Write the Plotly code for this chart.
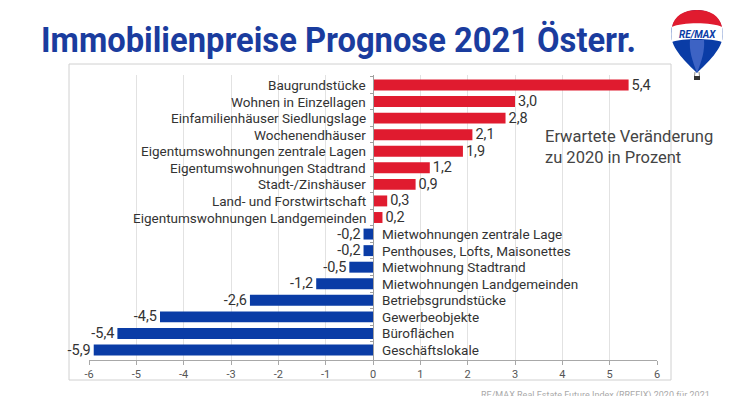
import plotly.graph_objects as go

# ---------------- data ----------------
categories = [
    "Baugrundstücke",
    "Wohnen in Einzellagen",
    "Einfamilienhäuser Siedlungslage",
    "Wochenendhäuser",
    "Eigentumswohnungen zentrale Lagen",
    "Eigentumswohnungen Stadtrand",
    "Stadt-/Zinshäuser",
    "Land- und Forstwirtschaft",
    "Eigentumswohnungen Landgemeinden",
    "Mietwohnungen zentrale Lage",
    "Penthouses, Lofts, Maisonettes",
    "Mietwohnung Stadtrand",
    "Mietwohnungen Landgemeinden",
    "Betriebsgrundstücke",
    "Gewerbeobjekte",
    "Büroflächen",
    "Geschäftslokale",
]
values = [5.4, 3.0, 2.8, 2.1, 1.9, 1.2, 0.9, 0.3, 0.2,
          -0.2, -0.2, -0.5, -1.2, -2.6, -4.5, -5.4, -5.9]
tick_values = [-6, -5, -4, -3, -2, -1, 0, 1, 2, 3, 4, 5, 6]
tick_labels = ["-6", "-5", "-4", "-3", "-2", "-1", "0", "1", "2", "3", "4", "5", "6"]

title_text = "Immobilienpreise Prognose 2021 Österr."
note_text = "Erwartete Veränderung<br>zu 2020 in Prozent"
source_text = "RE/MAX Real Estate Future Index (RREFIX) 2020 für 2021"

RED = "#e01b2f"
BLUE = "#0a3ca6"
TITLE_BLUE = "#1a3c9e"

# ---------------- layout geometry (pixels) ----------------
WIDTH, HEIGHT = 748, 396
L, R, T, B = 89, 657, 75, 360
PW, PH = R - L, B - T
TITLE_LEFT, TITLE_RIGHT = 41, 636


def px(x):
    return (x - L) / PW


def py(y):
    return (B - y) / PH


def path(points, close=True):
    s = ""
    for seg in points:
        cmd = seg[0]
        coords = seg[1:]
        pts = " ".join(f"{px(coords[j]):.5f},{py(coords[j+1]):.5f}" for j in range(0, len(coords), 2))
        s += f"{cmd} {pts} "
    if close:
        s += "Z"
    return s


bar_colors = [RED if v >= 0 else BLUE for v in values]
bar_text = [f"{v:.1f}".replace(".", ",") for v in values]

fig = go.Figure()
fig.add_trace(go.Bar(
    x=values,
    y=categories,
    orientation="h",
    marker=dict(color=bar_colors, line=dict(width=0)),
    text=bar_text,
    textposition="outside",
    constraintext="none",
    cliponaxis=False,
    textfont=dict(family="Roboto", size=14.5, color="#333333"),
    hoverinfo="skip",
))

LABEL_FONT = dict(family="Roboto", size=13.5, color="#333333")
annotations = []
for cat, v in zip(categories, values):
    if v >= 0:
        annotations.append(dict(x=0, y=cat, xref="x", yref="y", text=cat, showarrow=False,
                                xanchor="right", xshift=-5, font=LABEL_FONT))
    else:
        annotations.append(dict(x=0, y=cat, xref="x", yref="y", text=cat, showarrow=False,
                                xanchor="left", xshift=7, font=LABEL_FONT))

annotations.append(dict(x=px((TITLE_LEFT + TITLE_RIGHT) / 2), y=py(40), xref="paper", yref="paper",
                        text=title_text, showarrow=False, xanchor="center", yanchor="middle",
                        font=dict(family="Roboto", size=35, color=TITLE_BLUE, weight="bold")))
annotations.append(dict(x=px(543), y=py(125), xref="paper", yref="paper", text=note_text,
                        showarrow=False, xanchor="left", yanchor="top", align="left",
                        font=dict(family="Roboto", size=16.5, color="#444444")))
annotations.append(dict(x=px(712), y=py(388), xref="paper", yref="paper", text=source_text,
                        showarrow=False, xanchor="right", yanchor="top",
                        font=dict(family="Roboto", size=9, color="#aaaaaa")))
annotations.append(dict(x=px(697), y=py(34), xref="paper", yref="paper", text="<b><i>RE/MAX</i></b>",
                        showarrow=False, xanchor="center", yanchor="middle",
                        font=dict(family="Roboto", size=10, color=BLUE)))

shapes = [
    # chart frame
    dict(type="rect", xref="paper", yref="paper", x0=px(69), x1=px(671), y0=py(380), y1=py(64),
         line=dict(color="#d0d0d0", width=1), fillcolor="rgba(0,0,0,0)", layer="below"),
    # balloon body (blue)
    dict(type="path", xref="paper", yref="paper", line=dict(width=0), fillcolor=BLUE,
         path=path([("M", 697, 73), ("C", 687, 63, 671, 49, 671, 34),
                    ("C", 671, 19, 683, 10, 697, 10), ("C", 711, 10, 723, 19, 723, 34),
                    ("C", 723, 49, 707, 63, 697, 73)])),
    # lighter blue stripe
    dict(type="path", xref="paper", yref="paper", line=dict(width=0), fillcolor="#3d63c4",
         path=path([("M", 697, 73), ("C", 692, 60, 689, 50, 690, 40),
                    ("L", 704, 40), ("C", 705, 50, 702, 60, 697, 73)])),
    # white band
    dict(type="path", xref="paper", yref="paper", line=dict(width=0), fillcolor="#ffffff",
         path=path([("M", 672, 26), ("C", 682, 21, 712, 21, 722, 26),
                    ("C", 723, 31, 723, 37, 722, 42), ("C", 712, 38, 682, 38, 672, 42),
                    ("C", 671, 37, 671, 31, 672, 26)])),
    # red top
    dict(type="path", xref="paper", yref="paper", line=dict(width=0), fillcolor=RED,
         path=path([("M", 672, 27), ("C", 674, 16, 684, 10, 697, 10),
                    ("C", 710, 10, 720, 16, 722, 27), ("C", 712, 22, 682, 22, 672, 27)])),
    # basket
    dict(type="rect", xref="paper", yref="paper", x0=px(694), x1=px(700), y0=py(80), y1=py(76),
         line=dict(width=0), fillcolor="#333333"),
    dict(type="line", xref="paper", yref="paper", x0=px(695), x1=px(694.5), y0=py(72), y1=py(76),
         line=dict(color="#555555", width=0.7)),
    dict(type="line", xref="paper", yref="paper", x0=px(699), x1=px(699.5), y0=py(72), y1=py(76),
         line=dict(color="#555555", width=0.7)),
]

fig.update_layout(
    width=WIDTH, height=HEIGHT,
    margin=dict(l=L, r=WIDTH - R, t=T, b=HEIGHT - B, pad=0),
    paper_bgcolor="white", plot_bgcolor="white",
    showlegend=False,
    bargap=0.34,
    font=dict(family="Roboto", color="#333333"),
    xaxis=dict(range=[-6, 6], tickvals=tick_values, ticktext=tick_labels,
               showgrid=True, gridcolor="#e2e2e2", gridwidth=1, zeroline=False,
               showline=True, linecolor="#a8a8a8", linewidth=1,
               ticks="outside", ticklen=4, tickcolor="#a8a8a8",
               tickfont=dict(family="Roboto", size=11, color="#555555"),
               fixedrange=True),
    yaxis=dict(autorange="reversed", showticklabels=False, showgrid=False, zeroline=False,
               anchor="free", position=0.5, showline=True, linecolor="#a0a0a0", linewidth=1,
               ticks="outside", ticklen=3, tickcolor="#a0a0a0", tickson="boundaries",
               fixedrange=True),
    annotations=annotations,
    shapes=shapes,
)

post_script = """
document.body.style.margin = '0';
document.querySelectorAll('.annotation-text').forEach(function(t) {
  if (t.textContent.indexOf('Immobilienpreise') === 0) {
    t.setAttribute('textLength', '%d');
    t.setAttribute('lengthAdjust', 'spacingAndGlyphs');
  }
});
""" % (TITLE_RIGHT - TITLE_LEFT)

fig.write_html("out.html", post_script=post_script,
               config={"displayModeBar": False, "staticPlot": False})
